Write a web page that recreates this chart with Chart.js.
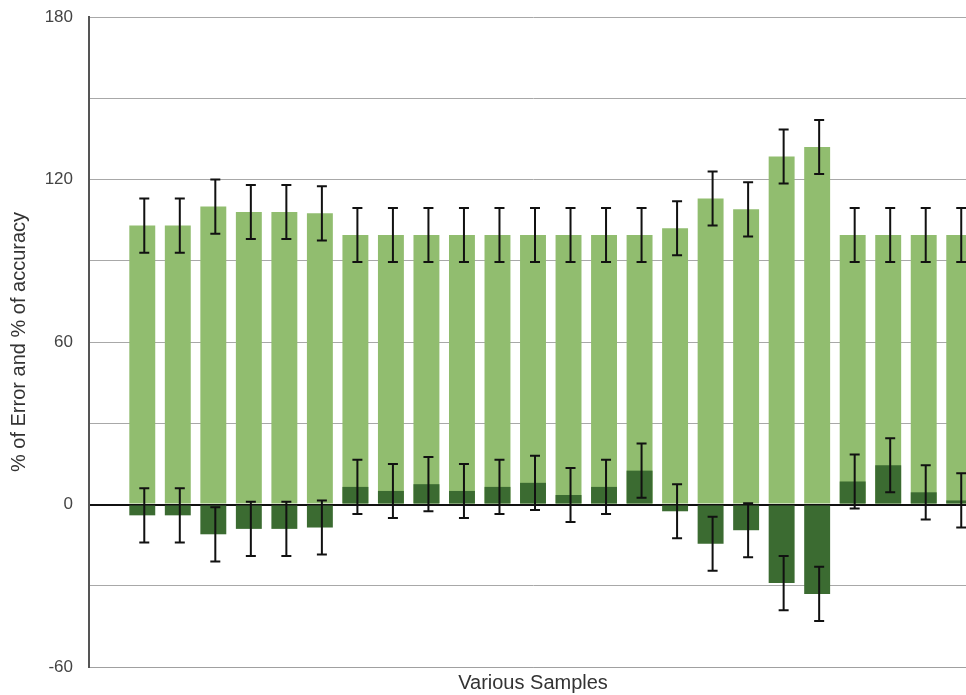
<!DOCTYPE html>
<html>
<head>
<meta charset="utf-8">
<script src="https://cdn.jsdelivr.net/npm/chart.js@4.4.1/dist/chart.umd.min.js"></script>
<style>
  html, body { margin: 0; padding: 0; background: #fff; overflow: hidden; }
  #wrap { width: 990px; height: 695px; }
</style>
</head>
<body>
<div id="wrap"><canvas id="chart" width="990" height="695"></canvas></div>
<script>
// Categories (first slot is empty, as in the original)
const samples = ['', 'S1', 'S2', 'S3', 'S4', 'S5', 'S6', 'S7', 'S8', 'S9', 'S10', 'S11', 'S12',
  'S13', 'S14', 'S15', 'S16', 'S17', 'S18', 'S19', 'S20', 'S21', 'S22', 'S23', 'S24'];

// % of accuracy (light green)
const accuracy = [null, 103, 103, 110, 108, 108, 107.5, 99.5, 99.5, 99.5, 99.5, 99.5, 99.5,
  99.5, 99.5, 99.5, 102, 113, 109, 128.5, 132, 99.5, 99.5, 99.5, 99.5];
const accuracyErr = [null, 10, 10, 10, 10, 10, 10, 10, 10, 10, 10, 10, 10,
  10, 10, 10, 10, 10, 10, 10, 10, 10, 10, 10, 10];

// % of error (dark green)
const error = [null, -4, -4, -11, -9, -9, -8.5, 6.5, 5, 7.5, 5, 6.5, 8,
  3.5, 6.5, 12.5, -2.5, -14.5, -9.5, -29, -33, 8.5, 14.5, 4.5, 1.5];
const errorErr = [null, 10, 10, 10, 10, 10, 10, 10, 10, 10, 10, 10, 10,
  10, 10, 10, 10, 10, 10, 10, 10, 10, 10, 10, 10];

const yTicks = [-60, 0, 60, 120, 180];

// Plugin pour dessiner les barres d'erreur
const errorBars = {
  id: 'errorBars',
  afterDatasetsDraw(chart) {
    const ctx = chart.ctx;
    const yScale = chart.scales.y;
    ctx.save();
    ctx.strokeStyle = '#111';
    ctx.lineWidth = 2;
    chart.data.datasets.forEach((ds, di) => {
      const meta = chart.getDatasetMeta(di);
      ds.data.forEach((v, i) => {
        const e = ds.errors[i];
        if (v === null || e === null) return;
        const x = meta.data[i].x + 2;
        const yTop = yScale.getPixelForValue(v + e);
        const yBot = yScale.getPixelForValue(v - e);
        ctx.beginPath();
        ctx.moveTo(x, yTop); ctx.lineTo(x, yBot);
        ctx.moveTo(x - 5, yTop); ctx.lineTo(x + 5, yTop);
        ctx.moveTo(x - 5, yBot); ctx.lineTo(x + 5, yBot);
        ctx.stroke();
      });
    });
    ctx.restore();
  }
};

new Chart(document.getElementById('chart'), {
  type: 'bar',
  data: {
    labels: samples,
    datasets: [
      { label: '% of Error', data: error, errors: errorErr, backgroundColor: '#3b6b31',
        grouped: false, barPercentage: 0.73, categoryPercentage: 1 },
      { label: '% of accuracy', data: accuracy, errors: accuracyErr, backgroundColor: '#91bd6f',
        grouped: false, barPercentage: 0.73, categoryPercentage: 1 }
    ]
  },
  options: {
    responsive: false,
    animation: false,
    layout: { padding: { top: 17, right: 13, left: 0, bottom: 0 } },
    plugins: { legend: { display: false }, tooltip: { enabled: false } },
    scales: {
      x: {
        grid: { display: false },
        border: { display: true, color: '#a0a0a0', width: 1 },
        ticks: { display: false },
        title: { display: true, text: 'Various Samples', color: '#333',
          font: { family: 'Liberation Sans, Arial, sans-serif', size: 20 }, padding: { top: 0, bottom: 0 } },
        afterFit(scale) { scale.height = 28; }
      },
      y: {
        min: -60,
        max: 180,
        afterBuildTicks(scale) {
          scale.ticks = [-60, -30, 0, 30, 60, 90, 120, 150, 180].map(v => ({ value: v }));
        },
        ticks: {
          padding: 16,
          color: '#444',
          font: { family: 'Liberation Sans, Arial, sans-serif', size: 17 },
          callback: v => (yTicks.includes(v) ? String(v) : '')
        },
        grid: {
          drawTicks: false,
          color: c => (c.tick && c.tick.value === 0 ? '#111' : '#a8a8a8'),
          lineWidth: c => (c.tick && c.tick.value === 0 ? 2 : 1)
        },
        border: { display: true, color: '#555', width: 2 },
        title: { display: true, text: '% of Error and % of accuracy', color: '#333',
          font: { family: 'Liberation Sans, Arial, sans-serif', size: 20 }, padding: { top: 7, bottom: 0 } },
        afterFit(scale) {
          scale.width = 89;
          scale.paddingTop = 0;
          scale.paddingBottom = 0;
        }
      }
    }
  },
  plugins: [errorBars]
});
</script>
</body>
</html>
